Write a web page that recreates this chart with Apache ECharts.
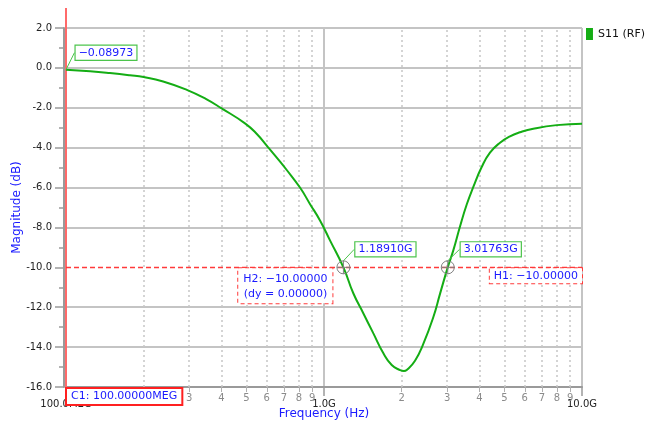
<!DOCTYPE html>
<html><head><meta charset="utf-8">
<script src="https://cdn.jsdelivr.net/npm/echarts@6/dist/echarts.min.js"></script>
<style>html,body{margin:0;padding:0;background:#fff}#c{width:646px;height:425px}</style>
</head><body><div id="c"></div>
<script>
// ---- data ----
const freqGHz = [0.1,0.124,0.148,0.177,0.2,0.238,0.294,0.351,0.401,0.494,0.548,0.602,0.656,0.717,0.807,0.882,0.965,1.055,1.1891,1.299,1.42,1.552,1.697,1.83,1.971,2.04,2.092,2.253,2.426,2.652,2.816,3.01763,3.171,3.366,3.574,3.791,4.085,4.399,4.811,5.26,5.75,6.475,7.98,10.0];
const s11dB = [-0.08973,-0.17,-0.26,-0.37,-0.46,-0.68,-1.1,-1.58,-2.03,-2.78,-3.3,-3.92,-4.5,-5.12,-6.0,-6.82,-7.65,-8.65,-10.0,-11.3,-12.3,-13.3,-14.3,-14.9,-15.15,-15.2,-15.15,-14.68,-13.84,-12.5,-11.33,-10.0,-9.15,-7.95,-6.85,-5.97,-4.97,-4.25,-3.75,-3.43,-3.23,-3.05,-2.87,-2.8];
const seriesName = 'S11 (RF)';
const markerFreqGHz = [1.1891, 3.01763];
const markerText = ['1.18910G', '3.01763G'];
const startText = '\u22120.08973';
const hLevel = -10;
const h1Text = 'H1: \u221210.00000';
const h2Text = 'H2: \u221210.00000\n(dy = 0.00000)';
const cursorText = 'C1: 100.00000MEG';
const cursorHz = 1e8;
const minorMult = [2,3,4,5,6,7,8,9];
const decadesHz = [1e8, 1e9];
const xTickValues = [1e8, 1e9, 1e10];
const xTickText = ['100.0MEG', '1.0G', '10.0G'];
const yMin = -16, yMax = 2, yStep = 2;

// ---- styles ----
const FONT = 'DejaVu Sans';
const GREEN = '#14ad14';
const BOXGREEN = '#4cc44c';
const BLUE = '#1a1aff';
const RED = '#ff3b3b';
const GRIDC = '#c4c4c4';
const AXISC = '#9a9a9a';
const CROSS = 'path://M10,0A10,10,0,1,1,10,20A10,10,0,1,1,10,0ZM10,0L10,20M0,10L20,10';
const G = {left:66, right:64};

const boxGreen = {show:true, position:'inside', color:BLUE, fontFamily:FONT, fontSize:11,
  backgroundColor:'#fff', borderColor:BOXGREEN, borderWidth:1.2, padding:[2,3,1,3]};

const seriesData = freqGHz.map((g,i) => {
  const it = {value:[g*1e9, s11dB[i]]};
  const m = markerFreqGHz.indexOf(g);
  if (m >= 0) {
    it.symbol = CROSS; it.symbolSize = 13;
    it.itemStyle = {color:'rgba(0,0,0,0)', borderColor:'#808080', borderWidth:1};
    it.label = Object.assign({}, boxGreen, {formatter: markerText[m]});
    it.labelLine = {show:true, lineStyle:{color:BOXGREEN, width:1}};
  }
  if (i === 0) {
    it.label = Object.assign({}, boxGreen, {formatter: startText});
    it.labelLine = {show:true, lineStyle:{color:BOXGREEN, width:1}};
  }
  return it;
});
const labelShift = {};
labelShift[0] = [40, -17];
labelShift[freqGHz.indexOf(markerFreqGHz[0])] = [42, -18];
labelShift[freqGHz.indexOf(markerFreqGHz[1])] = [43, -18];

// minor grid lines and minor ticks (log decades)
const gridLines = [], tickLines = [];
decadesHz.forEach(d => minorMult.forEach(k => {
  gridLines.push({xAxis: d*k});
  tickLines.push({xAxis: d*k, label:{formatter: String(k)}});
}));
// y split line colours (hidden under the H cursor)
const ySplitColors = [];
for (let v = yMin; v <= yMax + 1e-9; v += yStep) ySplitColors.push(Math.abs(v - hLevel) < 1e-9 ? '#ffffff' : GRIDC);

const hiddenLog = (gi) => ({type:'log', logBase:10, min:xTickValues[0], max:xTickValues[2], gridIndex:gi, show:false, splitLine:{show:false}});
const hiddenVal = (gi) => ({type:'value', min:0, max:1, gridIndex:gi, show:false, splitLine:{show:false}});

const chart = echarts.init(document.getElementById('c'), null, {renderer:'canvas'});
chart.setOption({
  animation:false,
  backgroundColor:'#fff',
  grid:[
    {left:G.left, right:G.right, top:28, bottom:38, containLabel:false, outerBoundsMode:'none'},
    {left:G.left, right:G.right, top:387, bottom:33, containLabel:false, outerBoundsMode:'none'},
    {left:G.left, right:G.right, top:8, bottom:38, containLabel:false, outerBoundsMode:'none'}
  ],
  legend:{data:[seriesName], right:-4, top:23, itemWidth:7, itemHeight:12, itemGap:5, icon:'rect',
    textStyle:{fontFamily:FONT, fontSize:11, color:'#111'}},
  xAxis:[
    {type:'log', logBase:10, min:xTickValues[0], max:xTickValues[2], splitNumber:2, gridIndex:0,
    name:'Frequency (Hz)', nameLocation:'middle', nameGap:21, nameMoveOverlap:false,
    nameTextStyle:{color:BLUE, fontFamily:FONT, fontSize:12},
    axisLine:{onZero:false, lineStyle:{color:AXISC, width:2}},
    axisTick:{show:true, length:9, lineStyle:{color:AXISC, width:1.5}},
    axisLabel:{margin:12, color:'#222', fontFamily:FONT, fontSize:10,
      formatter: v => { const i = xTickValues.findIndex(t => Math.abs(t-v)/t < 1e-6); return i>=0 ? xTickText[i] : ''; }},
    splitLine:{show:true, lineStyle:{color:GRIDC, width:2}}
    },
    hiddenLog(1), hiddenLog(2)
  ],
  yAxis:[
    {type:'value', min:yMin, max:yMax, interval:yStep, offset:2, gridIndex:0,
    name:'Magnitude (dB)', nameLocation:'middle', nameGap:41, nameMoveOverlap:false,
    nameTextStyle:{color:BLUE, fontFamily:FONT, fontSize:12},
    axisLine:{show:true, onZero:false, lineStyle:{color:AXISC, width:2}},
    axisTick:{show:true, length:9, lineStyle:{color:AXISC, width:1.5}},
    minorTick:{show:true, splitNumber:2, length:5, lineStyle:{color:AXISC, width:1.5}},
    axisLabel:{margin:12, color:'#222', fontFamily:FONT, fontSize:10, formatter: v => v.toFixed(1)},
    splitLine:{show:true, lineStyle:{color:ySplitColors, width:2}}
    },
    hiddenVal(1), hiddenVal(2)
  ],
  series:[
    {name:'minorGrid', type:'line', data:[], silent:true, clip:false, z:1, xAxisIndex:0, yAxisIndex:0,
      markLine:{z:1, silent:true, symbol:'none', animation:false, label:{show:false},
        lineStyle:{color:'#c6c6c6', type:[2,3], width:1.5}, data:gridLines}},
    {name:'minorTicks', type:'line', data:[], silent:true, clip:false, z:1, xAxisIndex:1, yAxisIndex:1,
      markLine:{z:1, silent:true, symbol:'none', animation:false,
        label:{show:true, position:'start', distance:1, color:'#8a8a8a', fontSize:10, fontFamily:FONT},
        lineStyle:{color:'#b0b0b0', type:'solid', width:1}, data:tickLines}},
    {name:'cursorC1', type:'line', data:[], silent:true, clip:false, z:4, xAxisIndex:2, yAxisIndex:2,
      markLine:{z:4, silent:true, symbol:'none', animation:false, label:{show:false},
        lineStyle:{color:'#ff6a6a', type:'solid', width:2}, data:[{xAxis:cursorHz}]}},
    {name:'cursorH', type:'line', data:[], silent:true, clip:false, z:4, xAxisIndex:0, yAxisIndex:0,
      markLine:{z:4, silent:true, symbol:'none', animation:false, label:{show:false},
        lineStyle:{color:RED, type:[5,3], width:1.3, opacity:1}, data:[{yAxis:hLevel}]}},
    {name:seriesName, type:'line', data:seriesData, clip:false, z:5, xAxisIndex:0, yAxisIndex:0,
      smooth:0.5, showSymbol:true, symbol:'circle', symbolSize:0,
      lineStyle:{color:GREEN, width:2}, itemStyle:{color:GREEN},
      labelLayout: p => { const d = labelShift[p.dataIndex]; return (p.seriesIndex===4 && d) ? {dx:d[0], dy:d[1]} : {}; },
      markPoint:{z:6, silent:true, symbol:'circle', symbolSize:0, animation:false,
        data:[
          {coord:[markerFreqGHz[0]*1e9, hLevel], label:{show:true, formatter:h2Text, position:[-11,1], align:'right', verticalAlign:'top',
            color:BLUE, fontFamily:FONT, fontSize:11, lineHeight:15, backgroundColor:'#fff',
            borderColor:RED, borderWidth:1, borderType:[4,3], padding:[3,5,2,5]}},
          {coord:[xTickValues[2], hLevel], label:{show:true, formatter:h1Text, position:[0,1], align:'right', verticalAlign:'top',
            color:BLUE, fontFamily:FONT, fontSize:11, backgroundColor:'#fff',
            borderColor:RED, borderWidth:1, borderType:[4,3], padding:[2,4,2,4]}},
          {coord:[cursorHz, yMin], label:{show:true, formatter:cursorText, position:[1,2], align:'left', verticalAlign:'top',
            color:BLUE, fontFamily:FONT, fontSize:11, backgroundColor:'#fff',
            borderColor:'#ff2020', borderWidth:2, padding:[2,4,2,4]}}
        ]}
    }
  ]
});
</script></body></html>
